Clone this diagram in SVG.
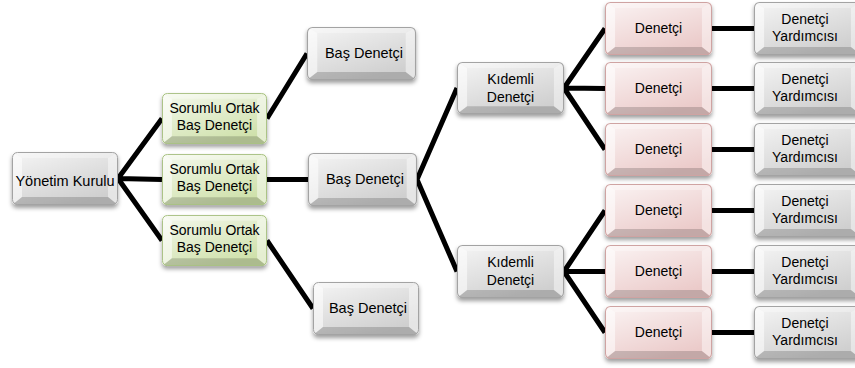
<svg xmlns="http://www.w3.org/2000/svg" xmlns:xlink="http://www.w3.org/1999/xlink" width="855" height="368" viewBox="0 0 855 368">
  <style>
    .lbl { font-family: "Liberation Sans", Arial, sans-serif; fill: #000; text-anchor: middle; }
    .gray  { fill: #cfcfcf; stroke: #a3a3a3; }
    .green { fill: #cfe1ab; stroke: #a9c184; }
    .pink  { fill: #ebcac9; stroke: #cfa3a2; }
    .wire  { stroke: #000; stroke-width: 5; fill: none; }
  </style>
  <defs>
    <filter id="shadow" x="-10%" y="-15%" width="120%" height="145%">
      <feDropShadow dx="0" dy="3" stdDeviation="2.2" flood-color="#000" flood-opacity="0.38"/>
    </filter>
    <linearGradient id="gloss" x1="0" y1="0" x2="0.6" y2="1">
      <stop offset="0" stop-color="#fff" stop-opacity="0.8"/>
      <stop offset="0.5" stop-color="#fff" stop-opacity="0.4"/>
      <stop offset="1" stop-color="#fff" stop-opacity="0"/>
    </linearGradient>
    <clipPath id="round">
      <rect x="0" y="0" width="106" height="53" rx="5"/>
    </clipPath>
    <!-- bevelled button: base colour comes from the referencing element -->
    <symbol id="bevel" viewBox="0 0 106 53" preserveAspectRatio="none" overflow="visible">
      <g clip-path="url(#round)">
        <rect x="0" y="0" width="106" height="53" stroke="none"/>
        <rect x="0" y="0" width="106" height="53" fill="url(#gloss)" stroke="none"/>
        <polygon points="0,0 106,0 96,6 10,6" fill="#fff" fill-opacity="0.3" stroke="none"/>
        <polygon points="0,0 10,6 10,45 0,53" fill="#fff" fill-opacity="0.55" stroke="none"/>
        <polygon points="106,0 106,53 96,45 96,6" fill="#fff" fill-opacity="0.45" stroke="none"/>
        <polygon points="0,53 10,45 96,45 106,53" fill="#000" fill-opacity="0.17" stroke="none"/>
      </g>
      <rect x="0.5" y="0.5" width="105" height="52" rx="5" fill="none" stroke-width="1"/>
    </symbol>
  </defs>

  <!-- connectors -->
  <g id="connectors" class="wire">
    <path d="M118,178.5 L162,118.5 M118,178.5 L162,179.5 M118,178.5 L162,240.5"/>
    <path d="M267,118.5 L307,53.5 M267,179.5 L308,179.5 M267,240.5 L313,308.5"/>
    <path d="M417,179.5 L457,88 M417,179.5 L457,271.5"/>
    <path d="M564,88 L605,28.5 M564,88 L605,88.5 M564,88 L605,149.5"/>
    <path d="M564,271.5 L605,210.5 M564,271.5 L605,271.5 M564,271.5 L605,332.5"/>
    <path d="M712,28.5 H754 M712,88.5 H754 M712,149.5 H754 M712,210.5 H754 M712,271.5 H754 M712,332.5 H754"/>
  </g>

  <!-- board -->
  <g id="yonetim-kurulu">
    <use href="#bevel" class="gray" x="12" y="152" width="106" height="53" filter="url(#shadow)"/>
    <text class="lbl" x="65" y="186" font-size="14.5">Yönetim Kurulu</text>
  </g>

  <!-- partner level -->
  <g id="ortak-1">
    <use href="#bevel" class="green" x="162" y="93" width="105" height="51" filter="url(#shadow)"/>
    <text class="lbl" x="214.5" y="113" font-size="14">Sorumlu Ortak</text>
    <text class="lbl" x="214.5" y="130" font-size="14">Baş Denetçi</text>
  </g>
  <g id="ortak-2">
    <use href="#bevel" class="green" x="162" y="154" width="105" height="51" filter="url(#shadow)"/>
    <text class="lbl" x="214.5" y="174" font-size="14">Sorumlu Ortak</text>
    <text class="lbl" x="214.5" y="191" font-size="14">Baş Denetçi</text>
  </g>
  <g id="ortak-3">
    <use href="#bevel" class="green" x="162" y="215" width="105" height="51" filter="url(#shadow)"/>
    <text class="lbl" x="214.5" y="235" font-size="14">Sorumlu Ortak</text>
    <text class="lbl" x="214.5" y="252" font-size="14">Baş Denetçi</text>
  </g>

  <!-- head auditors -->
  <g id="bas-denetci-1">
    <use href="#bevel" class="gray" x="307" y="27" width="109" height="53" filter="url(#shadow)"/>
    <text class="lbl" x="364" y="58" font-size="14.5">Baş Denetçi</text>
  </g>
  <g id="bas-denetci-2">
    <use href="#bevel" class="gray" x="308" y="153" width="109" height="53" filter="url(#shadow)"/>
    <text class="lbl" x="365" y="184" font-size="14.5">Baş Denetçi</text>
  </g>
  <g id="bas-denetci-3">
    <use href="#bevel" class="gray" x="313" y="282" width="106" height="53" filter="url(#shadow)"/>
    <text class="lbl" x="368" y="313" font-size="14.5">Baş Denetçi</text>
  </g>

  <!-- senior auditors -->
  <g id="kidemli-1">
    <use href="#bevel" class="gray" x="457" y="62" width="107" height="52" filter="url(#shadow)"/>
    <text class="lbl" x="510.5" y="84" font-size="14">Kıdemli</text>
    <text class="lbl" x="510.5" y="102" font-size="14">Denetçi</text>
  </g>
  <g id="kidemli-2">
    <use href="#bevel" class="gray" x="457" y="245" width="107" height="53" filter="url(#shadow)"/>
    <text class="lbl" x="510.5" y="267" font-size="14">Kıdemli</text>
    <text class="lbl" x="510.5" y="285" font-size="14">Denetçi</text>
  </g>

  <!-- auditors -->
  <g id="denetci-1">
    <use href="#bevel" class="pink" x="605" y="2" width="107" height="53" filter="url(#shadow)"/>
    <text class="lbl" x="658.5" y="33" font-size="14">Denetçi</text>
  </g>
  <g id="denetci-2">
    <use href="#bevel" class="pink" x="605" y="62" width="107" height="53" filter="url(#shadow)"/>
    <text class="lbl" x="658.5" y="93" font-size="14">Denetçi</text>
  </g>
  <g id="denetci-3">
    <use href="#bevel" class="pink" x="605" y="123" width="107" height="53" filter="url(#shadow)"/>
    <text class="lbl" x="658.5" y="154" font-size="14">Denetçi</text>
  </g>
  <g id="denetci-4">
    <use href="#bevel" class="pink" x="605" y="184" width="107" height="53" filter="url(#shadow)"/>
    <text class="lbl" x="658.5" y="215" font-size="14">Denetçi</text>
  </g>
  <g id="denetci-5">
    <use href="#bevel" class="pink" x="605" y="245" width="107" height="53" filter="url(#shadow)"/>
    <text class="lbl" x="658.5" y="276" font-size="14">Denetçi</text>
  </g>
  <g id="denetci-6">
    <use href="#bevel" class="pink" x="605" y="306" width="107" height="53" filter="url(#shadow)"/>
    <text class="lbl" x="658.5" y="337" font-size="14">Denetçi</text>
  </g>

  <!-- assistant auditors -->
  <g id="yardimci-1">
    <use href="#bevel" class="gray" x="754" y="2" width="107" height="53" filter="url(#shadow)"/>
    <text class="lbl" x="805" y="24" font-size="14">Denetçi</text>
    <text class="lbl" x="805" y="41" font-size="14">Yardımcısı</text>
  </g>
  <g id="yardimci-2">
    <use href="#bevel" class="gray" x="754" y="62" width="107" height="53" filter="url(#shadow)"/>
    <text class="lbl" x="805" y="84" font-size="14">Denetçi</text>
    <text class="lbl" x="805" y="101" font-size="14">Yardımcısı</text>
  </g>
  <g id="yardimci-3">
    <use href="#bevel" class="gray" x="754" y="123" width="107" height="53" filter="url(#shadow)"/>
    <text class="lbl" x="805" y="145" font-size="14">Denetçi</text>
    <text class="lbl" x="805" y="162" font-size="14">Yardımcısı</text>
  </g>
  <g id="yardimci-4">
    <use href="#bevel" class="gray" x="754" y="184" width="107" height="53" filter="url(#shadow)"/>
    <text class="lbl" x="805" y="206" font-size="14">Denetçi</text>
    <text class="lbl" x="805" y="223" font-size="14">Yardımcısı</text>
  </g>
  <g id="yardimci-5">
    <use href="#bevel" class="gray" x="754" y="245" width="107" height="53" filter="url(#shadow)"/>
    <text class="lbl" x="805" y="267" font-size="14">Denetçi</text>
    <text class="lbl" x="805" y="284" font-size="14">Yardımcısı</text>
  </g>
  <g id="yardimci-6">
    <use href="#bevel" class="gray" x="754" y="306" width="107" height="53" filter="url(#shadow)"/>
    <text class="lbl" x="805" y="328" font-size="14">Denetçi</text>
    <text class="lbl" x="805" y="345" font-size="14">Yardımcısı</text>
  </g>
</svg>
